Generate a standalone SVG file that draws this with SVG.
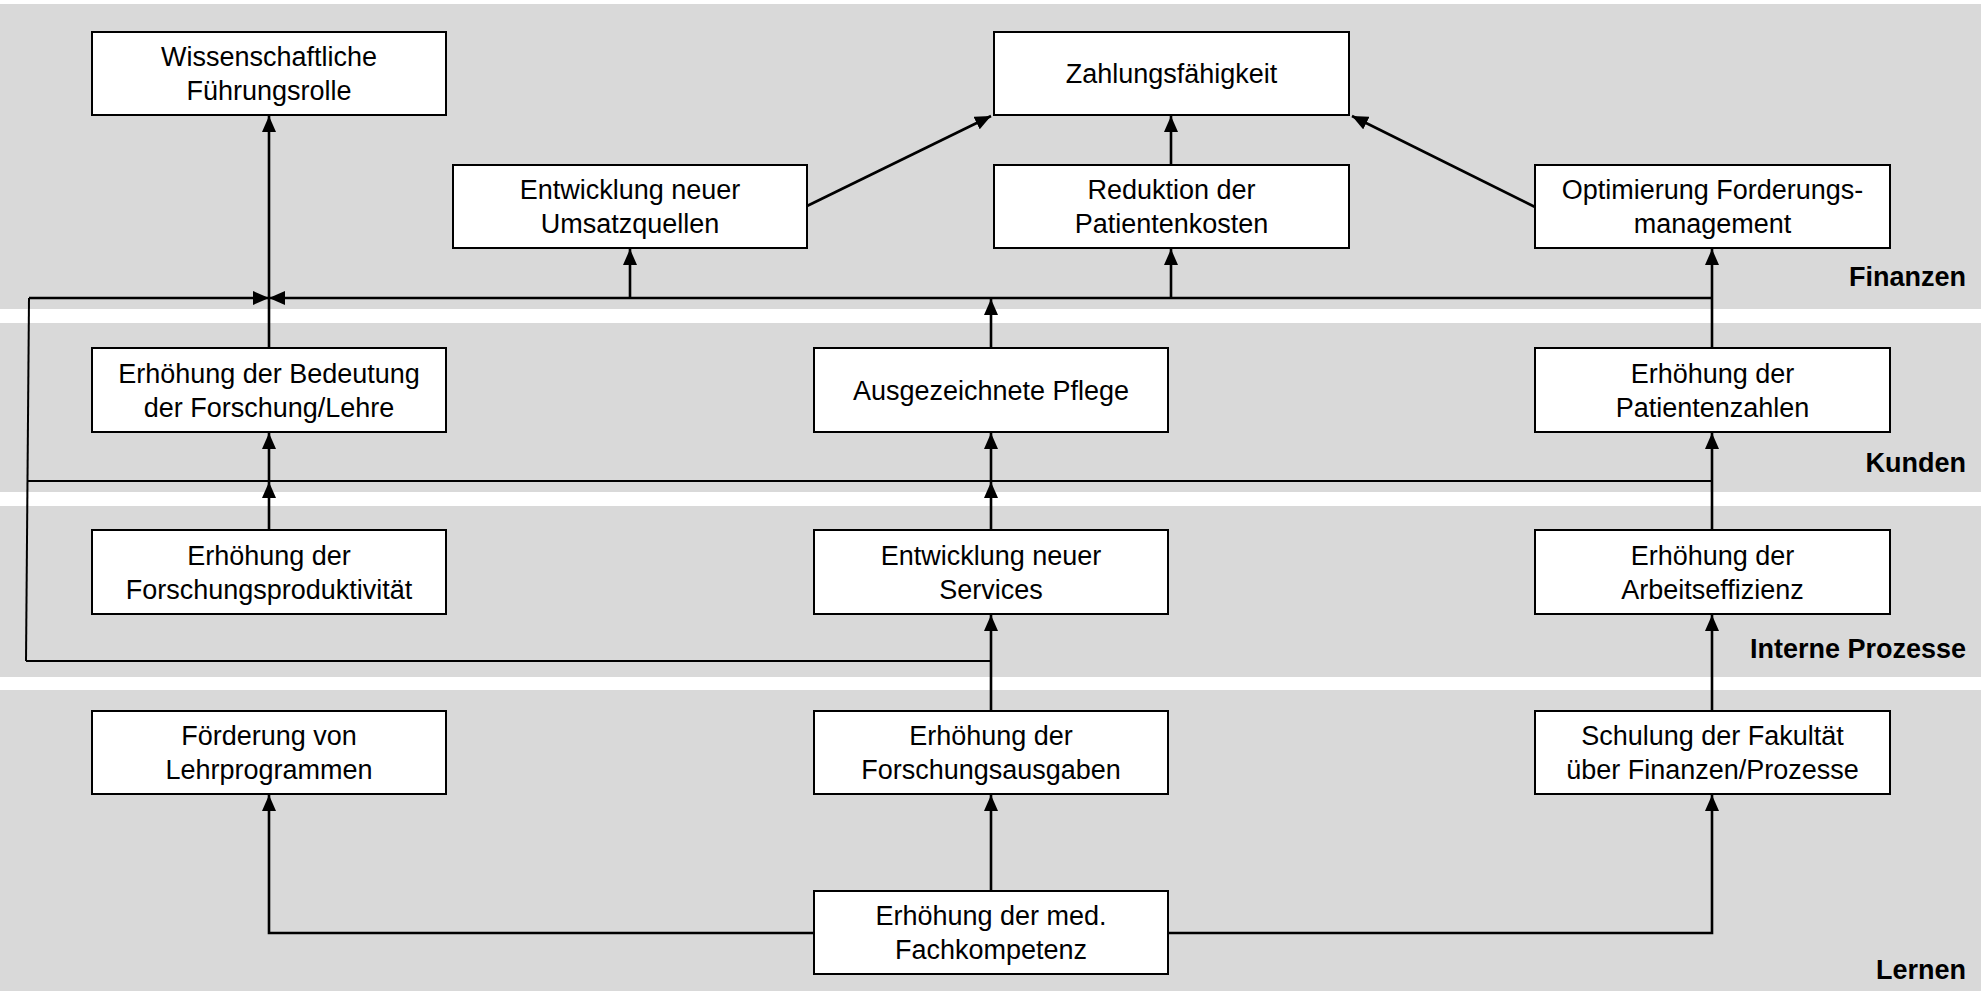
<svg xmlns="http://www.w3.org/2000/svg" width="1981" height="991" viewBox="0 0 1981 991">
<style>
.band{fill:#d9d9d9}
.box{fill:#ffffff;stroke:#000000;stroke-width:2}
.t{font-family:"Liberation Sans",Arial,sans-serif;font-size:27px;fill:#000000;text-anchor:middle}
.lbl{font-family:"Liberation Sans",Arial,sans-serif;font-size:27px;font-weight:bold;fill:#000000;text-anchor:end}
.c{fill:none;stroke:#000000;stroke-width:2.6}
.thin{fill:none;stroke:#000000;stroke-width:2}
</style>
<defs>
<marker id="ah" viewBox="0 0 16 14" markerWidth="16" markerHeight="14" refX="16" refY="7" orient="auto" markerUnits="userSpaceOnUse">
<path d="M0,0 L16,7 L0,14 z" fill="#000000"/>
</marker>
</defs>
<rect width="1981" height="991" fill="#ffffff"/>
<g id="bands">
<rect class="band" x="0" y="4" width="1981" height="305"/>
<rect class="band" x="0" y="323" width="1981" height="169"/>
<rect class="band" x="0" y="506" width="1981" height="171"/>
<rect class="band" x="0" y="690" width="1981" height="301"/>
<text class="lbl" x="1966" y="286">Finanzen</text>
<text class="lbl" x="1966" y="472">Kunden</text>
<text class="lbl" x="1966" y="658">Interne Prozesse</text>
<text class="lbl" x="1966" y="979">Lernen</text>
</g>
<g id="connectors">
<line class="thin" x1="29" y1="298" x2="26" y2="661"/>
<line class="thin" x1="28" y1="481" x2="1712" y2="481"/>
<line class="thin" x1="26" y1="661" x2="991" y2="661"/>
<line class="c" x1="29" y1="298" x2="269" y2="298" marker-end="url(#ah)"/>
<line class="c" x1="1712" y1="298" x2="269" y2="298" marker-end="url(#ah)"/>
<line class="c" x1="269" y1="348" x2="269" y2="116" marker-end="url(#ah)"/>
<line class="c" x1="630" y1="298" x2="630" y2="249" marker-end="url(#ah)"/>
<line class="c" x1="1171" y1="298" x2="1171" y2="249" marker-end="url(#ah)"/>
<line class="c" x1="1171" y1="165" x2="1171" y2="116" marker-end="url(#ah)"/>
<line class="c" x1="807" y1="206" x2="991" y2="116" marker-end="url(#ah)"/>
<line class="c" x1="1535" y1="207" x2="1352" y2="116" marker-end="url(#ah)"/>
<line class="c" x1="1712" y1="348" x2="1712" y2="249" marker-end="url(#ah)"/>
<line class="c" x1="991" y1="348" x2="991" y2="299" marker-end="url(#ah)"/>
<line class="c" x1="269" y1="530" x2="269" y2="482" marker-end="url(#ah)"/>
<line class="c" x1="269" y1="481" x2="269" y2="433" marker-end="url(#ah)"/>
<line class="c" x1="991" y1="530" x2="991" y2="482" marker-end="url(#ah)"/>
<line class="c" x1="991" y1="481" x2="991" y2="433" marker-end="url(#ah)"/>
<line class="c" x1="1712" y1="530" x2="1712" y2="433" marker-end="url(#ah)"/>
<line class="c" x1="991" y1="711" x2="991" y2="615" marker-end="url(#ah)"/>
<line class="c" x1="1712" y1="711" x2="1712" y2="615" marker-end="url(#ah)"/>
<line class="c" x1="991" y1="891" x2="991" y2="795" marker-end="url(#ah)"/>
<polyline class="c" points="814,933 269,933 269,795" marker-end="url(#ah)"/>
<polyline class="c" points="1168,933 1712,933 1712,795" marker-end="url(#ah)"/>
</g>
<g id="n_wiss"><rect class="box" x="92" y="32" width="354" height="83"/><text class="t" x="269" y="66">Wissenschaftliche</text><text class="t" x="269" y="100">Führungsrolle</text></g>
<g id="n_zahl"><rect class="box" x="994" y="32" width="355" height="83"/><text class="t" x="1171.5" y="83">Zahlungsfähigkeit</text></g>
<g id="n_umsatz"><rect class="box" x="453" y="165" width="354" height="83"/><text class="t" x="630" y="199">Entwicklung neuer</text><text class="t" x="630" y="233">Umsatzquellen</text></g>
<g id="n_reduktion"><rect class="box" x="994" y="165" width="355" height="83"/><text class="t" x="1171.5" y="199">Reduktion der</text><text class="t" x="1171.5" y="233">Patientenkosten</text></g>
<g id="n_optim"><rect class="box" x="1535" y="165" width="355" height="83"/><text class="t" x="1712.5" y="199">Optimierung Forderungs-</text><text class="t" x="1712.5" y="233">management</text></g>
<g id="n_bedeutung"><rect class="box" x="92" y="348" width="354" height="84"/><text class="t" x="269" y="383">Erhöhung der Bedeutung</text><text class="t" x="269" y="417">der Forschung/Lehre</text></g>
<g id="n_pflege"><rect class="box" x="814" y="348" width="354" height="84"/><text class="t" x="991" y="400">Ausgezeichnete Pflege</text></g>
<g id="n_patzahl"><rect class="box" x="1535" y="348" width="355" height="84"/><text class="t" x="1712.5" y="383">Erhöhung der</text><text class="t" x="1712.5" y="417">Patientenzahlen</text></g>
<g id="n_fprod"><rect class="box" x="92" y="530" width="354" height="84"/><text class="t" x="269" y="565">Erhöhung der</text><text class="t" x="269" y="599">Forschungsproduktivität</text></g>
<g id="n_services"><rect class="box" x="814" y="530" width="354" height="84"/><text class="t" x="991" y="565">Entwicklung neuer</text><text class="t" x="991" y="599">Services</text></g>
<g id="n_arbeit"><rect class="box" x="1535" y="530" width="355" height="84"/><text class="t" x="1712.5" y="565">Erhöhung der</text><text class="t" x="1712.5" y="599">Arbeitseffizienz</text></g>
<g id="n_lehr"><rect class="box" x="92" y="711" width="354" height="83"/><text class="t" x="269" y="745">Förderung von</text><text class="t" x="269" y="779">Lehrprogrammen</text></g>
<g id="n_fausg"><rect class="box" x="814" y="711" width="354" height="83"/><text class="t" x="991" y="745">Erhöhung der</text><text class="t" x="991" y="779">Forschungsausgaben</text></g>
<g id="n_schulung"><rect class="box" x="1535" y="711" width="355" height="83"/><text class="t" x="1712.5" y="745">Schulung der Fakultät</text><text class="t" x="1712.5" y="779">über Finanzen/Prozesse</text></g>
<g id="n_fach"><rect class="box" x="814" y="891" width="354" height="83"/><text class="t" x="991" y="925">Erhöhung der med.</text><text class="t" x="991" y="959">Fachkompetenz</text></g>
</svg>
